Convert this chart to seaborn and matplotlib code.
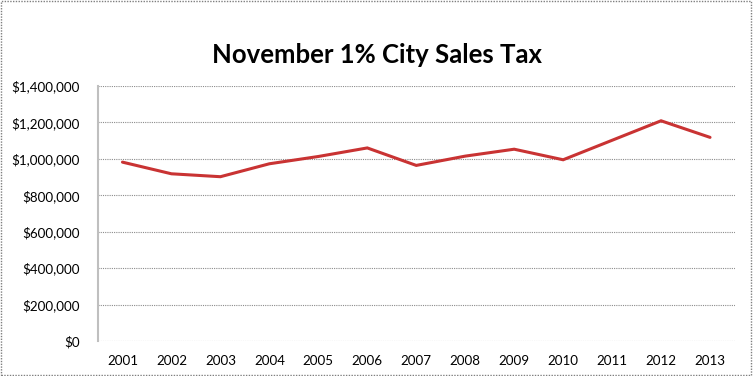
import pandas as pd
import seaborn as sns
import matplotlib.pyplot as plt
from matplotlib.ticker import FuncFormatter, MultipleLocator
from matplotlib.patches import Rectangle

# ===== 数据 =====
years = ["2001", "2002", "2003", "2004", "2005", "2006", "2007",
         "2008", "2009", "2010", "2011", "2012", "2013"]
sales_tax = [982000, 918000, 902000, 973000, 1013000, 1060000, 964000,
             1015000, 1053000, 995000, 1102000, 1209000, 1118000]

title = "November 1% City Sales Tax"
line_color = "#C93333"

df = pd.DataFrame({"year": years, "tax": sales_tax})
df["pos"] = range(len(years))

sns.set_style("white")
plt.rcParams["font.family"] = ["Lato", "DejaVu Sans"]
plt.rcParams["text.color"] = "black"

fig = plt.figure(figsize=(7.53, 3.76), dpi=100)
ax = fig.add_axes([98 / 753, 1 - 341 / 376, (734.5 - 98) / 753, (341 - 86) / 376])

sns.lineplot(data=df, x="pos", y="tax", ax=ax, color=line_color,
             linewidth=2.2, solid_joinstyle="miter")

ax.set_xlim(-0.5, len(years) - 0.5)
ax.set_ylim(0, 1400000)
ax.set_xticks(df["pos"])
ax.set_xticklabels(years)
ax.yaxis.set_major_locator(MultipleLocator(200000))
ax.yaxis.set_major_formatter(FuncFormatter(lambda v, p: f"${v:,.0f}"))
ax.set_xlabel("")
ax.set_ylabel("")

ax.grid(axis="y", color="#8C8C8C", linestyle=(0, (1, 1)), linewidth=0.8)
ax.set_axisbelow(True)
for s in ["top", "right", "bottom"]:
    ax.spines[s].set_visible(False)
ax.spines["left"].set_color("#BFBFBF")
ax.spines["left"].set_linewidth(1.5)
ax.tick_params(axis="both", length=0, labelsize=9.6, colors="black")
ax.tick_params(axis="y", pad=13)
ax.tick_params(axis="x", pad=10)

fig.text(377 / 753, 1 - 55 / 376, title, ha="center", va="center",
         fontsize=18.5, fontweight="bold", color="black")

# 外边框
fig.patches.append(Rectangle((0.001, 0.002), 0.997, 0.995, transform=fig.transFigure,
                             fill=False, edgecolor="#7F7F7F", linewidth=1.0,
                             linestyle=(0, (1, 1))))

plt.savefig("out.png", dpi=100)
plt.close()
